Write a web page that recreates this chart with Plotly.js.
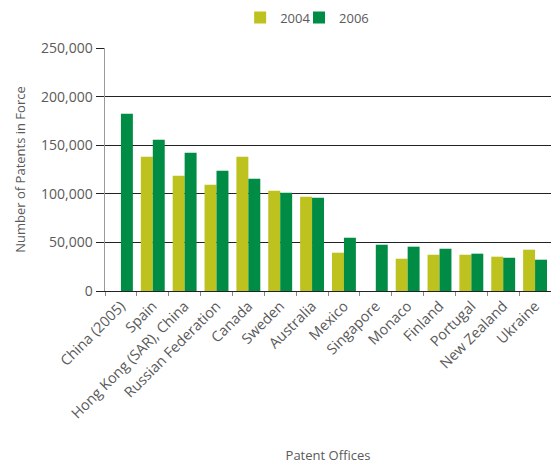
<!DOCTYPE html>
<html>
<head>
<meta charset="utf-8">
<script src="https://cdn.plot.ly/plotly-3.0.1.min.js"></script>
<style>html,body{margin:0;padding:0;overflow:hidden;background:#fff}</style>
</head>
<body>
<div id="chart" style="width:551px;height:464px"></div>
<script>
const categories = ["China (2005)", "Spain", "Hong Kong (SAR), China", "Russian Federation", "Canada", "Sweden", "Australia", "Mexico", "Singapore", "Monaco", "Finland", "Portugal", "New Zealand", "Ukraine"];
const values2004 = [null, 138000, 118500, 109300, 138000, 103100, 97000, 39400, null, 33200, 37300, 37300, 35300, 42500];
const values2006 = [182300, 155600, 142200, 123700, 115500, 101100, 96000, 54800, 47600, 45600, 43500, 38400, 34200, 32200];
const yTickVals = [0, 50000, 100000, 150000, 200000, 250000];
const yTickText = ["0", "50,000", "100,000", "150,000", "200,000", "250,000"];

const fam = "Open Sans, Liberation Sans, sans-serif";
const txt = "#5a5a5a";

const data = [
  {type: "bar", name: "2004", x: categories, y: values2004, marker: {color: "#bdc21e"}, legend: "legend"},
  {type: "bar", name: "2006", x: categories, y: values2006, marker: {color: "#008c44"}, legend: "legend2"}
];

const legendBase = {orientation: "h", xanchor: "left", y: 1.125, yanchor: "middle",
  font: {family: fam, color: txt, size: 13}, itemwidth: 30, bgcolor: "rgba(0,0,0,0)"};

const layout = {
  width: 551, height: 464,
  margin: {l: 105, r: 0, t: 48, b: 173, pad: 0},
  paper_bgcolor: "#fff", plot_bgcolor: "#fff",
  font: {family: fam, color: txt, size: 13},
  barmode: "group", bargap: 0.25, bargroupgap: 0,
  showlegend: true,
  legend: Object.assign({}, legendBase, {x: 0.303}),
  legend2: Object.assign({}, legendBase, {x: 0.435}),
  xaxis: {
    type: "category",
    tickangle: -45,
    tickson: "boundaries",
    ticks: "outside", ticklen: 4, tickcolor: "#888", tickwidth: 1,
    showline: true, linecolor: "#222", linewidth: 1,
    showgrid: false,
    tickfont: {family: fam, color: txt, size: 14.5},
    title: {text: "Patent Offices", font: {family: fam, color: txt, size: 13}, standoff: 40}
  },
  yaxis: {
    range: [0, 250000],
    tickvals: yTickVals, ticktext: yTickText,
    ticks: "outside", ticklen: 8, tickcolor: "#222", tickwidth: 1,
    showgrid: true, gridcolor: "#222", gridwidth: 1,
    zeroline: false,
    showline: true, linecolor: "#999", linewidth: 1.5,
    tickfont: {family: fam, color: txt, size: 14},
    title: {text: "Number of Patents in Force", font: {family: fam, color: txt, size: 13}, standoff: 12}
  }
};

Plotly.newPlot("chart", data, layout, {displayModeBar: false, staticPlot: true});
</script>
</body>
</html>
